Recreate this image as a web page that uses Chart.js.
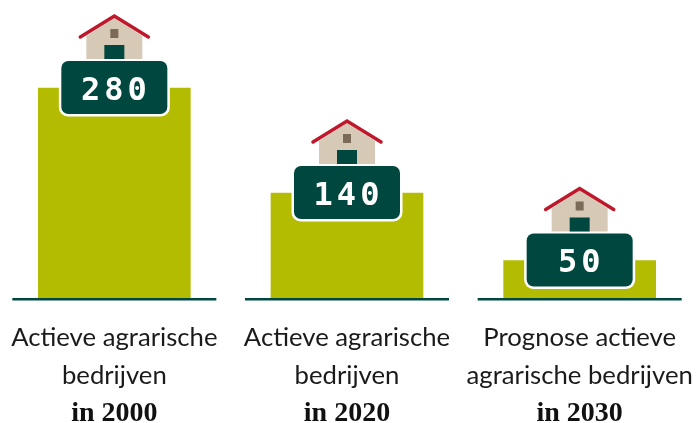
<!DOCTYPE html>
<html lang="nl">

<head>
    <meta charset="UTF-8">
    <title>Actieve agrarische bedrijven</title>
    <script src="https://cdn.jsdelivr.net/npm/chart.js"></script>
    <style>
        body { margin: 0; background: #fff; overflow: hidden; }
        canvas { margin-left: -2px; }
    </style>
</head>

<body>
    <canvas id="farmChart" width="698" height="423"></canvas>

    <script>
        const categories = [
            ["Actieve agrarische", "bedrijven"],
            ["Actieve agrarische", "bedrijven"],
            ["Prognose actieve", "agrarische bedrijven"]
        ];
        const years = ["in 2000", "in 2020", "in 2030"];
        const values = [280, 140, 50];

        const GREEN = "#00483f";

        // Baseline, house and number badge on top of each bar
        const decorations = {
            id: "decorations",
            afterDatasetsDraw(chart) {
                const ctx = chart.ctx;
                const baseY = chart.scales.y.getPixelForValue(0);
                chart.getDatasetMeta(0).data.forEach((bar, i) => {
                    const x = bar.x;
                    const y = bar.y;

                    ctx.fillStyle = GREEN;
                    ctx.fillRect(x - 102, baseY, 204, 2.5);

                    // badge with white outline
                    ctx.fillStyle = "#fff";
                    ctx.beginPath();
                    ctx.roundRect(x - 55.5, y - 28, 111, 56.5, 9);
                    ctx.fill();
                    ctx.fillStyle = GREEN;
                    ctx.beginPath();
                    ctx.roundRect(x - 53, y - 27, 106, 53, 7);
                    ctx.fill();

                    ctx.fillStyle = "#fff";
                    ctx.font = "bold 32px 'DejaVu Sans Mono'";
                    ctx.textAlign = "center";
                    ctx.textBaseline = "middle";
                    ctx.letterSpacing = "4px";
                    ctx.fillText(String(values[i]), x + 1.5, y + 3.5);
                    ctx.letterSpacing = "0px";

                    // house
                    ctx.fillStyle = "#d6c9b5";
                    ctx.beginPath();
                    ctx.moveTo(x - 28, y - 29);
                    ctx.lineTo(x + 28, y - 29);
                    ctx.lineTo(x + 28, y - 52);
                    ctx.lineTo(x, y - 70);
                    ctx.lineTo(x - 28, y - 52);
                    ctx.closePath();
                    ctx.fill();
                    ctx.fillStyle = GREEN;
                    ctx.fillRect(x - 10, y - 43, 20, 14);
                    ctx.fillStyle = "#7b6a58";
                    ctx.fillRect(x - 4, y - 59, 8, 9);
                    ctx.strokeStyle = "#c0182b";
                    ctx.lineWidth = 3.5;
                    ctx.lineCap = "round";
                    ctx.lineJoin = "miter";
                    ctx.beginPath();
                    ctx.moveTo(x - 34, y - 51);
                    ctx.lineTo(x, y - 72);
                    ctx.lineTo(x + 34, y - 51);
                    ctx.stroke();
                });
            }
        };

        // Long tick labels may hang over the edge, keep the full width for the bars
        function fitAxis(height) {
            return function (scale) {
                scale.height = height;
                scale.paddingLeft = 0;
                scale.paddingRight = 0;
            };
        }

        new Chart(document.getElementById("farmChart").getContext("2d"), {
            type: "bar",
            data: {
                labels: categories,
                datasets: [{
                    data: values,
                    backgroundColor: "#b3bc00",
                    barThickness: 152
                }]
            },
            plugins: [decorations],
            options: {
                responsive: false,
                animation: false,
                layout: { padding: { top: 13 } },
                plugins: { legend: { display: false }, tooltip: { enabled: false } },
                scales: {
                    y: { display: false, min: 0, max: 380 },
                    x: {
                        position: "bottom",
                        grid: { display: false },
                        border: { display: false },
                        ticks: {
                            color: "#1a1a1a",
                            font: { family: "Lato", size: 25.7, lineHeight: 1.47 },
                            padding: 13,
                            maxRotation: 0,
                            autoSkip: false
                        },
                        afterFit: fitAxis(91)
                    },
                    x2: {
                        type: "category",
                        position: "bottom",
                        labels: years,
                        offset: true,
                        grid: { display: false },
                        border: { display: false },
                        ticks: {
                            color: "#111",
                            font: { family: "Liberation Serif", size: 28, weight: "bold" },
                            padding: 0,
                            maxRotation: 0,
                            autoSkip: false
                        },
                        afterFit: fitAxis(34)
                    }
                }
            }
        });
    </script>
</body>

</html>
